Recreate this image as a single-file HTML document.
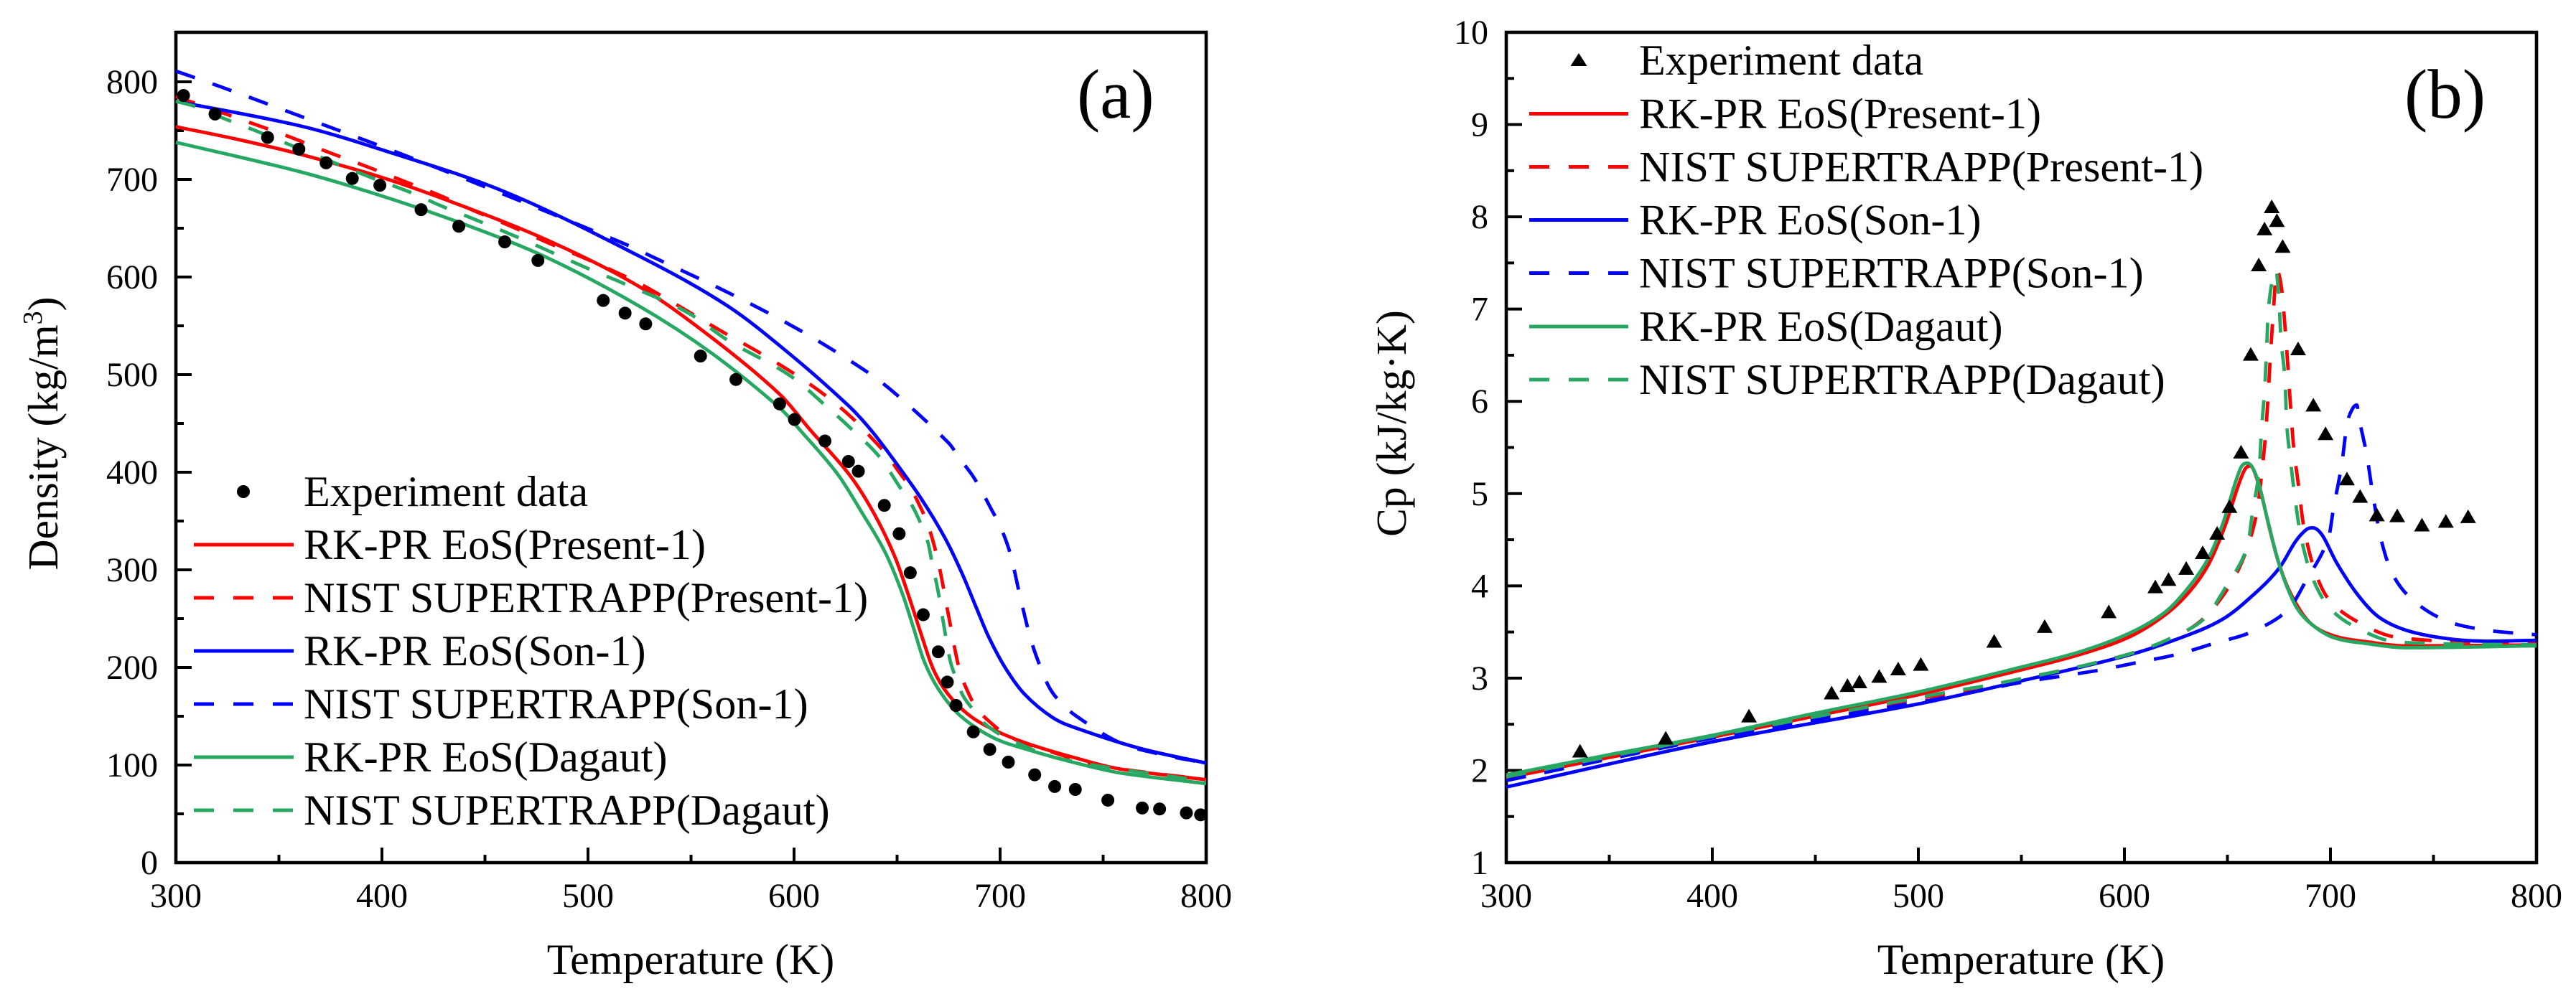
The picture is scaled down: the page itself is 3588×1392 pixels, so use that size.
<!DOCTYPE html>
<html>
<head>
<meta charset="utf-8">
<title>Density and Cp charts</title>
<style>
html,body{margin:0;padding:0;background:#fff;}
svg{display:block;}
text{font-family:"Liberation Serif",serif;fill:#000;}
.leg{font-size:60.2px;}
.title{font-size:59.5px;}
.tick{font-size:48px;}
</style>
</head>
<body>
<svg id="figure" xmlns="http://www.w3.org/2000/svg" width="3588" height="1392" viewBox="0 0 3588 1392">
  <rect x="0" y="0" width="3588" height="1392" fill="#fff"/>

  <g id="panel-a">
    <g id="a-axes"></g>
    <g id="a-series"></g>
    <g id="a-points"></g>
    <text class="title" x="962" y="1357" text-anchor="middle" style="font-size:60px">Temperature (K)</text>
    <text class="title" transform="translate(80,604) rotate(-90)" text-anchor="middle">Density (kg/m<tspan dy="-22" font-size="38">3</tspan><tspan dy="22">)</tspan></text>
    <text x="1500" y="164" style="font-size:97px">(a)</text>
    <g>
      <circle cx="339" cy="685" r="9" fill="#000"/>
      <text class="leg" x="423" y="705">Experiment data</text>
      <line x1="270" x2="409" y1="759" y2="759" stroke="#ff0000" stroke-width="5"/>
      <text class="leg" x="423" y="779">RK-PR EoS(Present-1)</text>
      <line x1="270" x2="409" y1="833" y2="833" stroke="#ff0000" stroke-width="5" stroke-dasharray="28 27"/>
      <text class="leg" x="423" y="853">NIST SUPERTRAPP(Present-1)</text>
      <line x1="270" x2="409" y1="907" y2="907" stroke="#0000ff" stroke-width="5"/>
      <text class="leg" x="423" y="927">RK-PR EoS(Son-1)</text>
      <line x1="270" x2="409" y1="981" y2="981" stroke="#0000ff" stroke-width="5" stroke-dasharray="28 27"/>
      <text class="leg" x="423" y="1001">NIST SUPERTRAPP(Son-1)</text>
      <line x1="270" x2="409" y1="1055" y2="1055" stroke="#27a862" stroke-width="5"/>
      <text class="leg" x="423" y="1075">RK-PR EoS(Dagaut)</text>
      <line x1="270" x2="409" y1="1129" y2="1129" stroke="#27a862" stroke-width="5" stroke-dasharray="28 27"/>
      <text class="leg" x="423" y="1149">NIST SUPERTRAPP(Dagaut)</text>
    </g>
  </g>

  <g id="panel-b">
    <g id="b-axes"></g>
    <g id="b-series"></g>
    <g id="b-points"></g>
    <text class="title" x="2815" y="1357" text-anchor="middle" style="font-size:60px">Temperature (K)</text>
    <text class="title" transform="translate(1958,590) rotate(-90)" text-anchor="middle">Cp (kJ/kg·K)</text>
    <text x="3349" y="164" style="font-size:97px">(b)</text>
    <g>
      <polygon points="2199,74 2210.5,92 2187.5,92" fill="#000"/>
      <text class="leg" x="2283" y="104">Experiment data</text>
      <line x1="2130" x2="2268" y1="158.5" y2="158.5" stroke="#ff0000" stroke-width="5"/>
      <text class="leg" x="2283" y="178.5">RK-PR EoS(Present-1)</text>
      <line x1="2130" x2="2268" y1="232.5" y2="232.5" stroke="#ff0000" stroke-width="5" stroke-dasharray="28 27"/>
      <text class="leg" x="2283" y="252.5">NIST SUPERTRAPP(Present-1)</text>
      <line x1="2130" x2="2268" y1="306.5" y2="306.5" stroke="#0000ff" stroke-width="5"/>
      <text class="leg" x="2283" y="326.5">RK-PR EoS(Son-1)</text>
      <line x1="2130" x2="2268" y1="380.5" y2="380.5" stroke="#0000ff" stroke-width="5" stroke-dasharray="28 27"/>
      <text class="leg" x="2283" y="400.5">NIST SUPERTRAPP(Son-1)</text>
      <line x1="2130" x2="2268" y1="455" y2="455" stroke="#27a862" stroke-width="5"/>
      <text class="leg" x="2283" y="475">RK-PR EoS(Dagaut)</text>
      <line x1="2130" x2="2268" y1="529" y2="529" stroke="#27a862" stroke-width="5" stroke-dasharray="28 27"/>
      <text class="leg" x="2283" y="549">NIST SUPERTRAPP(Dagaut)</text>
    </g>
  </g>
</svg>

<script>
// ---------- Panel (a) density data ----------
const xTickLabels = [300, 400, 500, 600, 700, 800];
const xMinorTicks = [350, 450, 550, 650, 750];
const densityTickLabels = [0, 100, 200, 300, 400, 500, 600, 700, 800];
const densityMinorTicks = [50, 150, 250, 350, 450, 550, 650, 750];

const densityExpT = [303.7,319,344.5,359.7,372.9,385.6,399,419,437.3,459.6,475.7,507.4,518,528,554.6,571.8,593,600.2,615,626.4,631.2,643.8,651,656.4,662.7,670,674.4,678.6,687,695,704,716.8,726.5,736.5,752.3,769,777.4,790.4,797.3];
const densityExpV = [786,767,743,731,717,701,694,669,652,636,617,576,563,552,519,495,470,454,432,411,401,366,337,297,254,216,185,161,134,116,103,90,78,75,64,56,55,51,49];

const densityRedT = [300,330,360,400,435,480,525,560,593,608,627,639,649,656,662,667.6,674.6,685,697,714,737,758,800];
const densityRedV = [754,741,726,702,676,638,590,538,480,443,397,357,313,271,232,198,173,151,136,121.5,107,96,85];
const densityRedDashT = [300,337.6,354.7,372.6,391.6,409.7,427.6,444.6,462.6,480.7,497.6,514.6,528,566,582,600,615,628,639,645,650.7,656.5,660,665,670,675,680,685,689,696.7,703.7,714,748,800];
const densityRedDashV = [785,757,744,729,714,699,684,668,652,635,620,604,590,543,524,501,479,456,432,418,401,384,370,346,308,253,200,172,157,141,130,121,100,85];
const densityBlueT = [300,360,399,460,528,568,598,626,637.4,650,662,673.4,681.6,688.5,694.3,702.4,711.7,725.6,737.4,768,800];
const densityBlueV = [780,755,731,687,618,570,521,469,443,408,372,332,296,261,232,200,173,148.5,137.5,117,102];
const densityBlueDashT = [300,321.6,357.6,410.7,464.7,517.7,532,570,604,636,650,675,680.4,686.8,691.5,696,700,705,710,715,720,724,728.6,736.4,758,780,800];
const densityBlueDashV = [811,795,767,725,680,634,620,582,544,502,479,430,414,396,379,361,345,316,270,228,198,179,166,151,123,110,102];
const densityGreenT = [300,360,400,440,480,525,560,593,603,621,632.7,644.3,652.5,658.2,663,670,680.4,696.7,714,737,758,800];
const densityGreenV = [738,708,683,654,620,570,522,466,443,398.5,359.5,317.6,276,239,207,178,151,128,115.4,102,92,81];
const densityGreenDashT = [300,309,322.6,338.6,354.7,374.6,394.7,414.7,428.6,448.6,466.7,482.7,498.6,516.6,548,568,598,616,628.7,641.5,652.5,657,661.8,665,667,670,672.3,674,676,679,682,688,693.3,703,728,800];
const densityGreenDashV = [780,775,763,750,736,719,702,686,673,656,640,625,610,594,564,535,499,467,442.6,415.6,381,367,346,328,307,277,248,227,205,187,171,154,141,128,107,83];

// ---------- Panel (b) Cp data ----------
const cpTickLabels = [1, 2, 3, 4, 5, 6, 7, 8, 9, 10];
const cpMinorTicks = [1.5, 2.5, 3.5, 4.5, 5.5, 6.5, 7.5, 8.5, 9.5];

const cpExpT = [335.8,377.4,417.8,457.9,465.6,471.4,481,490.2,501.2,536.8,561.3,592.4,615,621.4,630,638,645,651,656.6,661.3,665.2,668,671.5,674,676.8,684.3,691.7,697.6,708,714.4,722.5,732.4,744.4,756,766.8];
const cpExpC = [2.21,2.35,2.59,2.84,2.92,2.96,3.02,3.10,3.15,3.40,3.56,3.72,3.99,4.07,4.19,4.36,4.57,4.86,5.45,6.51,7.48,7.87,8.11,7.96,7.68,6.57,5.96,5.65,5.16,4.97,4.77,4.76,4.66,4.70,4.75];

const cpRedT = [300,350,400,450,500,550,579,602.7,620,631.7,641,649,655,658.4,661,665.6,670,674.6,680.6,689.6,701.4,719,736,800];
const cpRedC = [1.92,2.14,2.36,2.59,2.82,3.09,3.26,3.45,3.69,3.94,4.24,4.66,5.07,5.26,5.30,5.07,4.66,4.27,3.92,3.61,3.46,3.39,3.35,3.36];
const cpRedDashT = [300,400,500,514.6,533.4,549,569,586.7,606.5,624,638.6,651,659,664.3,666.6,668.5,669.8,670.9,672.2,674,676.3,678,679.4,680.7,682.2,684.6,686.9,692,699,714,732.8,800];
const cpRedDashC = [1.92,2.36,2.78,2.83,2.91,2.99,3.08,3.17,3.29,3.44,3.65,4.00,4.37,4.80,5.21,5.64,6.08,6.51,6.95,7.42,7.22,6.79,6.36,5.92,5.49,5.07,4.66,4.19,3.86,3.60,3.44,3.37];
const cpBlueT = [300,400,500,550,600.5,624,647.8,665.4,675.4,683,688.3,691.3,696,703,713,723,736.6,756,776,800];
const cpBlueC = [1.82,2.31,2.72,2.97,3.24,3.41,3.64,3.96,4.20,4.48,4.61,4.63,4.55,4.25,3.91,3.67,3.52,3.43,3.40,3.41];
const cpBlueDashT = [300,400,492.2,515.7,549,569,588.7,606.5,626,644,661.6,679.4,688,699,701.4,705.5,708,710.7,712.8,714,717.6,720.5,724.6,730.3,740.3,756.4,776,800];
const cpBlueDashC = [1.89,2.35,2.71,2.80,2.95,3.02,3.09,3.17,3.26,3.38,3.50,3.74,4.05,4.51,4.83,5.32,5.75,5.92,5.96,5.80,5.42,5.00,4.50,4.12,3.84,3.62,3.52,3.47];
const cpGreenT = [300,350,400,450,500,550,579,602.7,620,631.7,641,648,653.7,657,659.8,664.2,669,673.6,678.2,684,691,701.4,719,736,800];
const cpGreenC = [1.95,2.17,2.38,2.62,2.85,3.12,3.29,3.49,3.72,4.00,4.31,4.69,5.11,5.30,5.33,5.18,4.76,4.35,4.03,3.75,3.58,3.44,3.37,3.33,3.35];
const cpGreenDashT = [300,400,500,514.6,533.4,549,569,586.7,606.5,624,639,649.8,659.6,662.4,665.4,666.5,668,669,669.8,672.4,673.5,675,676,678,678.7,680.5,682.8,685.7,691,700,716,732.8,800];
const cpGreenDashC = [1.93,2.37,2.79,2.85,2.92,2.99,3.08,3.17,3.29,3.45,3.65,4.01,4.42,4.83,5.25,5.68,6.11,6.55,6.98,7.38,7.42,7.10,6.67,6.22,5.78,5.38,4.95,4.53,4.10,3.75,3.51,3.39,3.36];

// ---------- Axis functions ----------
const NS = 'http://www.w3.org/2000/svg';
const BLUE = '#0000ff', RED = '#ff0000', GREEN = '#27a862';

function xA(t) { return 245 + (t - 300) * (1680 - 245) / 500; }
function yA(v) { return 1202 - v * 1.36; }
function xB(t) { return 2098 + (t - 300) * (3533 - 2098) / 500; }
function yB(c) { return 1202 - (c - 1) * (1202 - 45) / 9; }

function monotonePath(ts, vs, fx, fy) {
  const px = ts.map(fx), py = vs.map(fy), n = px.length;
  const d = [], m = new Array(n);
  for (let i = 0; i < n - 1; i++) d.push((py[i + 1] - py[i]) / (px[i + 1] - px[i]));
  m[0] = d[0];
  m[n - 1] = d[n - 2];
  for (let i = 1; i < n - 1; i++) {
    if (d[i - 1] * d[i] <= 0) { m[i] = 0; }
    else {
      const h0 = px[i] - px[i - 1], h1 = px[i + 1] - px[i];
      m[i] = (d[i - 1] * h0 + d[i] * h1) / (h0 + h1);
      const lim = 3 * Math.min(Math.abs(d[i - 1]), Math.abs(d[i]));
      if (Math.abs(m[i]) > lim) m[i] = Math.sign(m[i]) * lim;
    }
  }
  let s = 'M' + px[0].toFixed(2) + ' ' + py[0].toFixed(2);
  for (let i = 0; i < n - 1; i++) {
    const h = (px[i + 1] - px[i]) / 3;
    s += 'C' + (px[i] + h).toFixed(2) + ' ' + (py[i] + m[i] * h).toFixed(2) + ' ' +
         (px[i + 1] - h).toFixed(2) + ' ' + (py[i + 1] - m[i + 1] * h).toFixed(2) + ' ' +
         px[i + 1].toFixed(2) + ' ' + py[i + 1].toFixed(2);
  }
  return s;
}

function drawSeries(parent, prefix, name, ts, vs, fx, fy, color, dashed) {
  const el = document.createElementNS(NS, 'path');
  
  
  el.setAttribute('d', monotonePath(ts, vs, fx, fy));
  el.setAttribute('fill', 'none');
  el.setAttribute('stroke', color);
  el.setAttribute('stroke-width', 4.8);
  if (dashed) el.setAttribute('stroke-dasharray', '28 26');
  parent.appendChild(el);
}

function drawTick(parent, prefix, x1, y1, x2, y2) {
  const el = document.createElementNS(NS, 'line');
  
  
  el.setAttribute('x1', x1);
  el.setAttribute('y1', y1);
  el.setAttribute('x2', x2);
  el.setAttribute('y2', y2);
  el.setAttribute('stroke', '#000');
  el.setAttribute('stroke-width', 4);
  parent.appendChild(el);
}

function drawLabel(parent, prefix, x, y, anchor, value) {
  const el = document.createElementNS(NS, 'text');
  
  
  el.setAttribute('class', 'tick');
  el.setAttribute('x', x);
  el.setAttribute('y', y);
  el.setAttribute('text-anchor', anchor);
  el.textContent = value;
  parent.appendChild(el);
}

function drawAxes(parent, prefix, fx, fy, yTicks, yMinor, labelRight) {
  const left = fx(300), right = fx(800), bottom = 1202, top = 45;
  const frame = document.createElementNS(NS, 'rect');
  
  
  frame.setAttribute('x', left);
  frame.setAttribute('y', top);
  frame.setAttribute('width', right - left);
  frame.setAttribute('height', bottom - top);
  frame.setAttribute('fill', 'none');
  frame.setAttribute('stroke', '#000');
  frame.setAttribute('stroke-width', 4.6);
  parent.appendChild(frame);
  xTickLabels.forEach(function (t) {
    if (t !== 300 && t !== 800) drawTick(parent, prefix + '-x-major', fx(t), bottom, fx(t), bottom - 21);
    drawLabel(parent, prefix + '-x', fx(t), 1264, 'middle', t);
  });
  xMinorTicks.forEach(function (t) {
    drawTick(parent, prefix + '-x-minor', fx(t), bottom, fx(t), bottom - 11);
  });
  yTicks.forEach(function (v) {
    if (fy(v) < bottom - 1 && fy(v) > top + 1) drawTick(parent, prefix + '-y-major', left, fy(v), left + 22, fy(v));
    drawLabel(parent, prefix + '-y', labelRight, fy(v) + 16, 'end', v);
  });
  yMinor.forEach(function (v) {
    drawTick(parent, prefix + '-y-minor', left, fy(v), left + 11, fy(v));
  });
}

// ---------- Draw panel (a) ----------
const aAxes = document.getElementById('a-axes');
const aSeries = document.getElementById('a-series');
const aPoints = document.getElementById('a-points');
drawAxes(aAxes, 'density', xA, yA, densityTickLabels, densityMinorTicks, 220);
drawSeries(aSeries, 'density', 'rkpr-present', densityRedT, densityRedV, xA, yA, RED, false);
drawSeries(aSeries, 'density', 'nist-present', densityRedDashT, densityRedDashV, xA, yA, RED, true);
drawSeries(aSeries, 'density', 'rkpr-son', densityBlueT, densityBlueV, xA, yA, BLUE, false);
drawSeries(aSeries, 'density', 'nist-son', densityBlueDashT, densityBlueDashV, xA, yA, BLUE, true);
drawSeries(aSeries, 'density', 'rkpr-dagaut', densityGreenT, densityGreenV, xA, yA, GREEN, false);
drawSeries(aSeries, 'density', 'nist-dagaut', densityGreenDashT, densityGreenDashV, xA, yA, GREEN, true);
densityExpT.forEach(function (t, i) {
  const el = document.createElementNS(NS, 'circle');
  
  
  el.setAttribute('cx', xA(t));
  el.setAttribute('cy', yA(densityExpV[i]));
  el.setAttribute('r', 9);
  el.setAttribute('fill', '#000');
  aPoints.appendChild(el);
});

// ---------- Draw panel (b) ----------
const bAxes = document.getElementById('b-axes');
const bSeries = document.getElementById('b-series');
const bPoints = document.getElementById('b-points');
drawAxes(bAxes, 'cp', xB, yB, cpTickLabels, cpMinorTicks, 2073);
drawSeries(bSeries, 'cp', 'rkpr-present', cpRedT, cpRedC, xB, yB, RED, false);
drawSeries(bSeries, 'cp', 'nist-present', cpRedDashT, cpRedDashC, xB, yB, RED, true);
drawSeries(bSeries, 'cp', 'rkpr-son', cpBlueT, cpBlueC, xB, yB, BLUE, false);
drawSeries(bSeries, 'cp', 'nist-son', cpBlueDashT, cpBlueDashC, xB, yB, BLUE, true);
drawSeries(bSeries, 'cp', 'rkpr-dagaut', cpGreenT, cpGreenC, xB, yB, GREEN, false);
drawSeries(bSeries, 'cp', 'nist-dagaut', cpGreenDashT, cpGreenDashC, xB, yB, GREEN, true);
cpExpT.forEach(function (t, i) {
  const cx = xB(t), cy = yB(cpExpC[i]);
  const el = document.createElementNS(NS, 'polygon');
  
  
  el.setAttribute('points', cx + ',' + (cy - 10) + ' ' + (cx + 11) + ',' + (cy + 9) + ' ' + (cx - 11) + ',' + (cy + 9));
  el.setAttribute('fill', '#000');
  bPoints.appendChild(el);
});
</script>
</body>
</html>
